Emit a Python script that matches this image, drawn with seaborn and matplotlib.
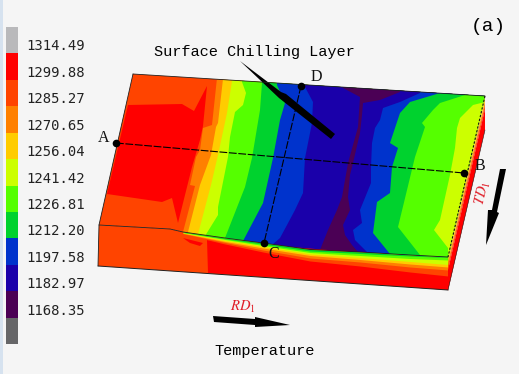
# -*- coding: utf-8 -*-
"""Temperature contour on a slab with a surface chilling layer, panel (a)."""

import numpy as np
import matplotlib.pyplot as plt
import seaborn as sns
from matplotlib.colors import ListedColormap
from matplotlib.patches import Polygon

sns.set_theme(style="white")
plt.rcParams["mathtext.fontset"] = "stix"

# legend
LEVEL_LABELS = ["1314.49", "1299.88", "1285.27", "1270.65", "1256.04", "1241.42",
                "1226.81", "1212.20", "1197.58", "1182.97", "1168.35"]
GRAY_HI = "#b9b9bb"
RED = "#ff0000"
ORED = "#ff4400"
ORANGE = "#ff8000"
YELLOW = "#ffcc00"
YGREEN = "#ccff00"
LIME = "#55ff00"
GREEN = "#00d22e"
BLUE = "#0033cc"
DBLUE = "#1a00aa"
PURPLE = "#4b0055"
GRAY_LO = "#666668"
LEVEL_COLORS = [GRAY_HI, RED, ORED, ORANGE, YELLOW, YGREEN, LIME, GREEN, BLUE,
                DBLUE, PURPLE, GRAY_LO]

# slab outline, picture pixels
BACK_EDGE = [(133, 74), (485, 96)]
FRONT_EDGE_X = np.array([99, 170, 183, 225, 263, 310, 360, 410, 448])
FRONT_EDGE_Y = np.array([225, 229, 232, 238, 243, 249.5, 252, 255, 257])
BOTTOM_EDGE = [(448, 290), (98, 266)]
RIGHT_FACE = [(485, 96), (448, 257), (448, 290), (485, 130)]

# isotherms on the top surface, back edge to front edge
RED_ZONE = [(128, 105), (182, 104), (194, 111), (207, 86), (203, 126), (200, 140),
            (192, 167), (188, 183), (178, 223), (172, 198), (162, 202), (107, 194)]
ISO_ORANGE = [(217, 78), (212, 125), (203, 128), (200, 150), (196, 157), (190, 185),
              (195, 186), (183, 232)]
ISO_YELLOW = [(223, 79), (218, 123), (216, 127), (211, 155), (200, 185), (188, 232)]
ISO_YGREEN = [(232, 81), (227, 113), (218, 155), (211, 185), (198, 234)]
ISO_LIME = [(242, 82), (246, 93), (243, 105), (235, 112), (230, 137), (228, 157),
            (218, 207), (218, 215), (205, 236)]
ISO_GREEN = [(262, 83), (260, 110), (252, 158), (245, 187), (225, 238)]
ISO_BLUE = [(277, 85), (285, 103), (280, 120), (273, 158), (263, 203), (243, 241)]
ISO_DBLUE = [(305, 87), (313, 102), (312, 123), (305, 158), (303, 193), (295, 210),
             (287, 225), (280, 238), (272, 245)]
ISO_PURPLE = [(343, 88), (360, 97), (358, 127), (348, 163), (342, 197), (337, 210),
              (328, 230), (320, 250)]
ISO_DBLUE2 = [(400, 92), (380, 100), (363, 103), (362, 115), (360, 133), (353, 163),
              (350, 175), (348, 197), (350, 210), (343, 225), (345, 235), (352, 245),
              (358, 252)]
ISO_BLUE2 = [(420, 93), (400, 102), (383, 108), (380, 120), (375, 128), (372, 143),
             (371, 167), (371, 183), (360, 210), (362, 223), (353, 230), (355, 240),
             (367, 252)]
ISO_GREEN2 = [(440, 93), (410, 102), (400, 113), (390, 143), (398, 148), (392, 167),
              (390, 193), (377, 202), (373, 233), (390, 254)]
ISO_LIME2 = [(465, 95), (440, 103), (433, 110), (422, 123), (425, 127), (415, 157),
             (407, 190), (398, 227), (420, 255)]
ISO_YGREEN2 = [(485, 102), (473, 105), (460, 118), (457, 128), (455, 148), (450, 175),
               (440, 220), (434, 230), (448, 248)]

# front face: depth of each band below the front top edge
FRONT_X = np.array([183, 225, 263, 310, 360, 410, 448])
DEPTH_ORED = [2, 6, 9, 11.5, 14, 17, 19]
DEPTH_ORANGE = [1.6, 4.5, 7, 8.5, 10, 12, 13]
DEPTH_YELLOW = [1.2, 3.5, 5, 6, 7.5, 9, 10]
DEPTH_YGREEN = [0.8, 2.5, 3.5, 4.5, 5.5, 6.5, 7.5]
DEPTH_LIME = [0.5, 1.5, 2.5, 3, 3.5, 3.5, 3]
DEPTH_GREEN = [0.3, 0.8, 1.2, 1.5, 1.5, 1, 0.5]
FRONT_RED = [(207, 240), (448, 260), (448, 290), (208, 273)]
FRONT_RED_TIP = [(183, 238), (203, 243), (200, 246), (190, 243)]

# right face: share of the face height where each colour stops
RIGHT_STOPS = [0.08, 0.16, 0.26, 0.38, 1.0]
RIGHT_COLORS = [YGREEN, YELLOW, ORANGE, ORED, RED]

# probes and annotations
PROBE_AB = [(116, 143), (464, 173)]
PROBE_CD = [(301, 86), (264, 243)]
LEADER = [(240, 61), (281, 92), (286, 94), (335, 134), (331, 139), (279, 98)]
ARROW_TD = [(500, 169), (506, 169), (497, 212), (499, 213), (486, 245), (488, 210), (492, 210)]
ARROW_RD = [(213, 316), (255, 319), (255, 317), (290, 325), (255, 327), (255, 325), (214, 322)]


def main() -> None:
    fig = plt.figure(figsize=(5.19, 3.74), dpi=100, facecolor="#f5f5f5")
    ax = fig.add_axes([0, 0, 1, 1])
    ax.set_xlim(0, 519)
    ax.set_ylim(374, 0)
    ax.set_facecolor("#f5f5f5")
    ax.axis("off")
    ax.axvspan(0, 2.5, color="#d6e2ef", lw=0)

    front_edge = list(zip(FRONT_EDGE_X, FRONT_EDGE_Y))
    top_face = BACK_EDGE + front_edge[::-1]
    front_face = front_edge + BOTTOM_EDGE

    # top surface, each band painted from its isotherm to the right edge
    ax.fill(*zip(*front_face), color=ORED, lw=0)
    ax.fill(*zip(*top_face), color=ORED, lw=0)
    clip = Polygon(top_face, transform=ax.transData)
    ax.fill(*zip(*RED_ZONE), color=RED, lw=0)
    bands = [(ISO_ORANGE, ORANGE), (ISO_YELLOW, YELLOW), (ISO_YGREEN, YGREEN),
             (ISO_LIME, LIME), (ISO_GREEN, GREEN), (ISO_BLUE, BLUE),
             (ISO_DBLUE, DBLUE), (ISO_PURPLE, PURPLE), (ISO_DBLUE2, DBLUE),
             (ISO_BLUE2, BLUE), (ISO_GREEN2, GREEN), (ISO_LIME2, LIME),
             (ISO_YGREEN2, YGREEN)]
    for iso, color in bands:
        # run past the slab on three sides, the clip cuts it back
        pts = iso + [(iso[-1][0], 300), (500, 300), (500, 60), (iso[0][0], 60)]
        for patch in ax.fill(*zip(*pts), color=color, lw=0):
            patch.set_clip_path(clip)

    # front face
    ax.fill(*zip(*FRONT_RED), color=RED, lw=0)
    ax.fill(*zip(*FRONT_RED_TIP), color=RED, lw=0)
    edge = np.interp(FRONT_X, FRONT_EDGE_X, FRONT_EDGE_Y)
    crescent = [(DEPTH_ORED, ORED), (DEPTH_ORANGE, ORANGE), (DEPTH_YELLOW, YELLOW),
                (DEPTH_YGREEN, YGREEN), (DEPTH_LIME, LIME), (DEPTH_GREEN, GREEN)]
    ax.fill_between(FRONT_X[1:], edge[1:], edge[1:] + np.array(DEPTH_ORED[1:]) + 1, color=RED, lw=0)
    for depth, color in crescent:
        ax.fill_between(FRONT_X, edge, edge + np.array(depth), color=color, lw=0)

    # right face
    (x0, y0), (x1, y1) = RIGHT_FACE[0], RIGHT_FACE[1]
    hgt = RIGHT_FACE[3][1] - y0
    prev = 0.0
    for stop, color in zip(RIGHT_STOPS, RIGHT_COLORS):
        ax.fill([x0, x1, x1, x0], [y0 + prev * hgt, y1 + prev * hgt, y1 + stop * hgt, y0 + stop * hgt],
                color=color, lw=0)
        prev = stop

    # outlines
    ax.plot(*zip(*BACK_EDGE), color="#202020", lw=0.6)
    ax.plot(FRONT_EDGE_X, FRONT_EDGE_Y, color="#202020", lw=0.6)
    ax.plot(*zip(*BOTTOM_EDGE), color="#202020", lw=0.7)
    ax.plot(*zip(BACK_EDGE[0], front_edge[0], BOTTOM_EDGE[1]), color="#202020", lw=0.6)
    ax.plot(*zip(*RIGHT_FACE[2:]), color="#202020", lw=0.4)
    ax.plot(*zip(*RIGHT_FACE[:2]), color="#111111", lw=0.8, ls=(0, (2, 1.5)))

    # probes
    for probe in (PROBE_AB, PROBE_CD):
        ax.plot(*zip(*probe), color="black", lw=0.8, ls=(0, (7, 1.5)))
        ax.plot(*zip(*probe), "o", color="black", ms=5.5, mew=0)

    ax.fill(*zip(*LEADER), color="black", lw=0)
    ax.fill(*zip(*ARROW_TD), color="black", lw=0)
    ax.fill(*zip(*ARROW_RD), color="black", lw=0)

    serif = "Liberation Serif"
    mono = "Liberation Mono"
    for letter, x, y in [("A", 104, 138), ("B", 480, 166), ("C", 274, 254), ("D", 316, 77)]:
        ax.text(x, y, letter, family=serif, fontsize=11.5, color="#111111", ha="center", va="center")
    ax.text(254, 52, "Surface Chilling Layer", family=mono, fontsize=11, color="black",
            ha="center", va="center")
    ax.text(264.5, 351, "Temperature", family=mono, fontsize=11, color="black",
            ha="center", va="center")
    ax.text(488, 26, "(a)", family=mono, fontsize=14, color="black", ha="center", va="center")
    ax.text(243, 307, r"$\mathit{RD_1}$", color="#e0202a", fontsize=10.5, ha="center", va="center")
    ax.text(483, 193, r"$\mathit{TD_1}$", color="#e0202a", fontsize=10.5, rotation=77,
            ha="center", va="center")

    # colour legend
    cax = fig.add_axes([6 / 519, 1 - 344 / 374, 12 / 519, 317 / 374])
    cells = np.arange(len(LEVEL_COLORS)).reshape(-1, 1)
    sns.heatmap(cells, ax=cax, cmap=ListedColormap(LEVEL_COLORS), cbar=False,
                xticklabels=False, yticklabels=False)
    cax.yaxis.tick_right()
    cax.set_yticks(np.arange(len(LEVEL_LABELS)) + 0.68)
    cax.set_yticklabels(LEVEL_LABELS, family="DejaVu Sans Mono", fontsize=10,
                        rotation=0, color="#222222")
    cax.tick_params(axis="y", length=0, pad=6)

    fig.savefig("out.png", dpi=100, facecolor=fig.get_facecolor())
    plt.close(fig)


if __name__ == "__main__":
    main()
